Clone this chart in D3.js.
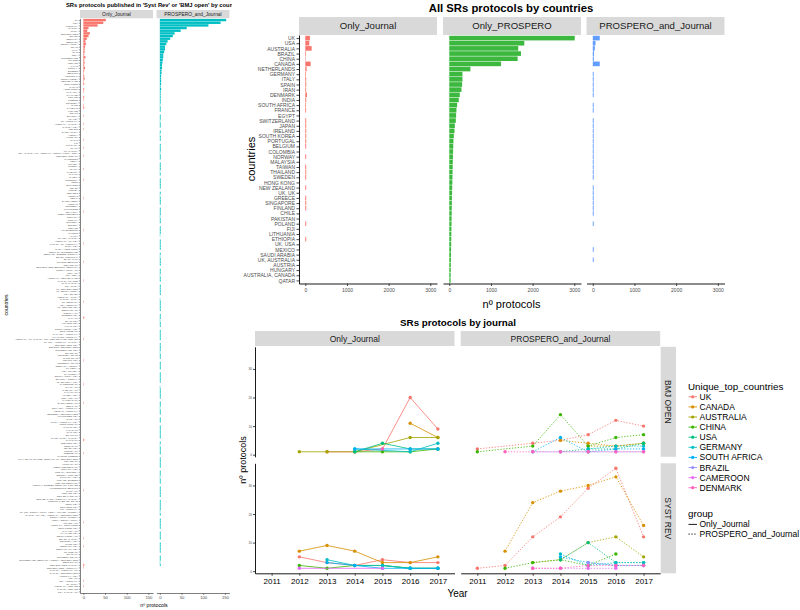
<!DOCTYPE html>
<html><head><meta charset="utf-8">
<script src="https://cdn.jsdelivr.net/npm/d3@7"></script>
<style>body{margin:0;background:#fff}svg{display:block;font-family:"Liberation Sans",Arial,Helvetica,sans-serif}</style>
</head><body><svg id="c" width="800" height="610"></svg>
<script>
// ---------------- DATA ----------------
// Left chart: SRs protocols published in 'Syst Rev' or 'BMJ open' by countries
const leftCountries = [
"UK","USA","AUSTRALIA","CANADA","CHINA","NETHERLANDS","BRAZIL","GERMANY","DENMARK","SOUTH AFRICA",
"SPAIN","ITALY","IRAN","INDIA","SWITZERLAND","FRANCE","IRELAND","JAPAN","NORWAY","SWEDEN",
"BELGIUM","PORTUGAL","SOUTH KOREA","NEW ZEALAND","SINGAPORE","TAIWAN","HONG KONG","MALAYSIA","THAILAND","FINLAND",
"GREECE","COLOMBIA","CHILE","PAKISTAN","POLAND","EGYPT","ETHIOPIA","UK, USA","UK, AUSTRALIA","AUSTRALIA, CANADA",
"CANADA, USA","MEXICO","SAUDI ARABIA","AUSTRIA","HUNGARY","QATAR","FIJI","LITHUANIA","UK, UK","UK, CANADA",
"USA, CANADA, UK, AUSTRALIA, SOUTH AFRICA, INDIA","NETHERLANDS, UK","CAMEROON","KENYA","UGANDA","NIGERIA","GHANA","TANZANIA","MALAWI","ZAMBIA",
"ARGENTINA","PERU","ECUADOR","ISRAEL","TURKEY","LEBANON","JORDAN","NEPAL","BANGLADESH","VIETNAM",
"INDONESIA","PHILIPPINES","SRI LANKA","CZECH REPUBLIC","ROMANIA","CROATIA","SLOVENIA","ESTONIA","ICELAND","LUXEMBOURG",
"CYPRUS","MALTA","UK, USA, CANADA","AUSTRALIA, UK, USA","CANADA, UK, AUSTRALIA","CHINA, USA","CHINA, HONG KONG","GERMANY, SWITZERLAND","DENMARK, SWEDEN, NORWAY","BRAZIL, PORTUGAL",
"SPAIN, ITALY","FRANCE, BELGIUM","IRELAND, UK","NETHERLANDS, BELGIUM, GERMANY","SOUTH AFRICA, UK","INDIA, UK","USA, INDIA","AUSTRALIA, NEW ZEALAND","CANADA, FRANCE","IRAN, CANADA",
"USA, CHINA","UK, NETHERLANDS","UK, SOUTH AFRICA","USA, BRAZIL","AUSTRALIA, CHINA","CANADA, CHINA","UK, GERMANY","USA, GERMANY","UK, IRELAND, USA","DENMARK, UK",
"NORWAY, UK","SWEDEN, USA","ITALY, UK","SPAIN, USA","FRANCE, USA","JAPAN, USA","SOUTH KOREA, USA","SINGAPORE, UK","MALAYSIA, AUSTRALIA","THAILAND, AUSTRALIA",
"AUSTRALIA, UK, CANADA, USA, NEW ZEALAND, IRELAND","UK, USA, AUSTRALIA, CANADA","NETHERLANDS, USA","BELGIUM, NETHERLANDS","SWITZERLAND, USA","BRAZIL, UK","COLOMBIA, SPAIN","CHILE, SPAIN","MEXICO, USA","ARGENTINA, SPAIN",
"GERMANY, AUSTRIA","UK, KENYA","USA, UGANDA","UK, NIGERIA","SOUTH AFRICA, USA","ETHIOPIA, NORWAY","UK, ETHIOPIA, USA","CAMEROON, UK","GHANA, UK","TANZANIA, UK",
"MALAWI, UK","ZAMBIA, USA","INDIA, USA, UK","PAKISTAN, UK","BANGLADESH, UK","NEPAL, UK","SRI LANKA, AUSTRALIA","VIETNAM, AUSTRALIA","INDONESIA, NETHERLANDS","PHILIPPINES, USA",
"CHINA, UK","CHINA, AUSTRALIA, USA","HONG KONG, UK","TAIWAN, USA","JAPAN, UK","IRAN, USA","EGYPT, UK","SAUDI ARABIA, CANADA","QATAR, UK","LEBANON, USA",
"JORDAN, UK","ISRAEL, USA","TURKEY, UK","GREECE, UK","CYPRUS, GREECE","ITALY, SPAIN, FRANCE, GERMANY, UK, NETHERLANDS","POLAND, UK","HUNGARY, UK","CZECH REPUBLIC, UK","ROMANIA, USA",
"CROATIA, SLOVENIA","ESTONIA, FINLAND","LITHUANIA, USA","FINLAND, SWEDEN","ICELAND, DENMARK","NORWAY, SWEDEN, DENMARK, FINLAND","LUXEMBOURG, BELGIUM","MALTA, UK","IRELAND, USA","NEW ZEALAND, UK",
"NEW ZEALAND, AUSTRALIA, CANADA","PORTUGAL, BRAZIL, SPAIN","PERU, USA","ECUADOR, USA","FIJI, AUSTRALIA","UK, USA, SOUTH AFRICA, KENYA, UGANDA, NIGERIA","CANADA, UK, USA, AUSTRALIA, NETHERLANDS","SOUTH AFRICA, NIGERIA","KENYA, SOUTH AFRICA","UGANDA, UK",
"AUSTRALIA, SINGAPORE","SINGAPORE, USA","MALAYSIA, UK","THAILAND, USA","SOUTH KOREA, UK","BRAZIL, CANADA","COLOMBIA, USA","CHILE, USA","DENMARK, USA","GERMANY, UK, USA",
"FRANCE, UK","SPAIN, UK","SWITZERLAND, UK","SWITZERLAND, GERMANY, AUSTRIA, NETHERLANDS","BELGIUM, UK","NETHERLANDS, CANADA","NETHERLANDS, AUSTRALIA","CANADA, AUSTRALIA, UK","CANADA, NETHERLANDS","AUSTRALIA, USA",
"USA, UK","USA, AUSTRALIA","UK, CHINA","AUSTRALIA, IRELAND","CANADA, IRELAND","USA, CANADA, UK"
];
const leftOnlyJournal = [
52,46,33,12,9,15,12,8,5,6, 4,3,3,2,5,2,3,2,4,2, 1,2,3,1,2,0,2,1,0,2, 1,0,1,2,0,0,1,0,0,1,
0,1,0,0,0,1,0,0,1,0, 0,1,0,0,0,0,1,0,0,0, 1,0,0,0,0,0,0,1,0,0, 0,0,1,0,0,0,0,0,0,1,
0,0,0,0,1,0,0,0,0,0, 0,1,0,0,0,0,0,0,1,0, 0,0,0,0,0,0,1,0,0,0, 0,0,2,0,0,0,0,0,0,0,
1,0,0,0,0,0,0,0,1,0, 0,0,0,0,0,0,0,1,0,0, 0,0,0,0,1,0,0,0,0,0, 0,0,0,0,0,0,0,0,2,0,
0,0,0,1,0,0,0,0,0,0, 0,0,0,0,0,0,0,1,0,0, 0,0,0,0,0,0,0,0,0,1, 0,0,0,0,0,1,0,0,1,0,
0,0,0,0,0,2,1,0,0,0, 0,1,0,1,0,0
];
const leftProsperoJournal = [
153,140,112,62,48,34,30,24,18,15, 12,12,10,8,8,7,6,5,5,4, 4,3,3,3,3,2,3,2,2,2,
2,2,1,2,2,0,2,2,1,2, 2,0,2,1,2,2,0,2,2,2, 1,2,2,0,2,2,2,1,2,0, 2,2,2,2,0,2,1,2,2,2,
0,2,2,2,1,2,2,0,2,2, 2,1,0,2,2,2,2,0,2,1, 2,2,2,0,2,2,1,2,2,0, 2,2,2,2,0,1,2,2,2,2,
0,2,2,1,2,2,0,2,2,2, 2,0,2,2,2,1,2,2,0,2, 2,2,0,2,2,2,2,0,1,2, 2,2,2,0,2,2,1,2,2,0,
2,2,0,2,2,2,2,2,0,2, 1,2,2,2,0,2,2,2,2,0, 2,2,1,2,2,0,2,2,2,2, 0,2,2,2,2,1,2,0,2,2,
2,2,0,2,2,2,0,2,2,2, 2,0,2,2,1,2
];
const leftGroups = ["Only_Journal","PROSPERO_and_Journal"];
const leftTicks = [0,50,100,150];

// Top-right chart: All SRs protocols by countries
const topCountries = ["UK","USA","AUSTRALIA","BRAZIL","CHINA","CANADA","NETHERLANDS","GERMANY","ITALY","SPAIN",
"IRAN","DENMARK","INDIA","SOUTH AFRICA","FRANCE","EGYPT","SWITZERLAND","JAPAN","IRELAND","SOUTH KOREA",
"PORTUGAL","BELGIUM","COLOMBIA","NORWAY","MALAYSIA","TAIWAN","THAILAND","SWEDEN","HONG KONG","NEW ZEALAND",
"UK, UK","GREECE","SINGAPORE","FINLAND","CHILE","PAKISTAN","POLAND","FIJI","LITHUANIA","ETHIOPIA",
"UK, USA","MEXICO","SAUDI ARABIA","UK, AUSTRALIA","AUSTRIA","HUNGARY","AUSTRALIA, CANADA","QATAR"];
const topOnlyJournal = [112,96,153,17,12,129,33,17,22,22, 20,41,22,17,20,0,22,22,22,22,
22,22,0,22,0,22,22,22,0,22, 0,22,22,22,0,0,22,0,0,22, 0,0,0,0,0,0,0,0];
const topOnlyProspero = [3010,1800,1655,1720,1640,1240,507,316,316,308, 292,252,228,188,172,164,157,133,125,109,
100,96,92,88,85,82,79,76,73,70, 67,64,62,60,58,56,54,52,50,48, 46,44,42,40,38,36,34,32];
const topProsperoJournal = [167,65,48,30,25,167,0,22,22,22, 22,22,0,22,22,0,22,22,22,22,
22,22,22,22,22,22,22,22,0,22, 22,22,22,22,22,0,22,0,0,0, 0,22,0,22,0,0,0,0];
const topGroups = ["Only_Journal","Only_PROSPERO","PROSPERO_and_Journal"];
const topTicks = [0,1000,2000,3000];

// Bottom-right chart: SRs protocols by journal
const years = ["2011","2012","2013","2014","2015","2016","2017"];
const lineCountries = ["UK","CANADA","AUSTRALIA","CHINA","USA","GERMANY","SOUTH AFRICA","BRAZIL","CAMEROON","DENMARK"];
const lineColors = ["#F8766D","#D89000","#A3A500","#39B600","#00BF7D","#00BFC4","#00B0F6","#9590FF","#E76BF3","#FF62BC"];
const journals = ["BMJ OPEN","SYST REV"];
const lineGroups = ["Only_Journal","PROSPERO_and_Journal"];
const yTicks = [0,10,20,30];
const _ = null;
const bmjOnlyJournal = [
[_,_,1,1,2,20,9],[_,_,_,_,_,11,6],[_,1,1,1,_,6,6],[_,_,_,1,1,1,2],[_,_,_,1,4,2,2],
[_,_,_,2,_,1,4],[_,_,_,2,_,2,2],[_,_,_,_,_,_,_],[_,_,_,_,_,_,_],[_,_,_,_,2,_,_]];
const bmjProsperoJournal = [
[2,_,4,5,7,12,10],[_,_,_,5,4,3,4],[_,_,_,_,3,3,4],[1,_,3,14,3,6,7],[_,_,_,1,2,2,4],
[_,_,_,_,2,3,3],[_,_,1,6,1,2,2],[_,_,1,1,1,1,1],[_,_,_,_,_,_,_],[_,1,1,1,1,1,1]];
const systOnlyJournal = [
[_,5,3,2,4,3,3],[_,7,9,7,3,3,5],[_,_,_,_,_,_,_],[_,2,1,2,2,1,1],[_,_,_,_,2,1,1],
[_,_,4,2,2,1,1],[_,_,3,2,1,1,1],[_,_,_,_,_,_,_],[_,1,_,_,1,_,_],[_,_,_,_,_,_,_]];
const systProsperoJournal = [
[1,2,12,19,29,36,12],[_,7,24,28,30,33,16],[_,_,3,4,10,12,5],[_,1,3,4,2,6,_],[_,_,_,4,10,3,3],
[_,_,_,6,2,3,3],[_,_,_,5,3,2,2],[_,_,_,_,3,2,2],[_,_,1,1,1,1,_],[_,_,1,1,2,2,2]];

// ---------------- DRAW ----------------
const svg = d3.select("#c");
const AX = "#4D4D4D", STRIP = "#D9D9D9", STXT = "#1A1A1A";
const fmt = d3.format("d");
function styleAxis(g, fs, lw){
  g.select(".domain").attr("stroke","#000").attr("stroke-width",lw);
  g.selectAll(".tick line").attr("stroke","#333").attr("stroke-width",lw);
  g.selectAll(".tick text").attr("fill",AX).attr("font-size",fs).attr("font-family",null);
}

// ===== LEFT CHART =====
svg.append("defs").append("clipPath").attr("id","clipL").append("rect").attr("x",0).attr("y",0).attr("width",232).attr("height",610);
const L = svg.append("g").attr("clip-path","url(#clipL)");
L.append("text").attr("x",66).attr("y",7.3).attr("font-size",5.8).attr("font-weight","bold").attr("fill","#000")
 .text("SRs protocols published in 'Syst Rev' or 'BMJ open' by countries");
const lMax = d3.max(leftOnlyJournal.concat(leftProsperoJournal));
const lW = 73;
const lx = d3.scaleLinear().domain([-0.05*lMax, 1.05*lMax]).range([0,lW]);
const ly = d3.scalePoint().domain(leftCountries).range([18.5,593]).padding(0.6);
const lStep = ly.step();
const lPanels = [{x0:80, vals:leftOnlyJournal, col:"#F8766D"},{x0:156.5, vals:leftProsperoJournal, col:"#00BFC4"}];
lPanels.forEach((p,i)=>{
  L.append("rect").attr("x",p.x0).attr("y",10).attr("width",lW).attr("height",8.3).attr("fill",STRIP);
  L.append("text").attr("x",p.x0+lW/2).attr("y",15.9).attr("text-anchor","middle").attr("font-size",4.9).attr("fill",STXT).text(leftGroups[i]);
  L.append("g").selectAll("rect").data(leftCountries.map((c,j)=>({c,v:p.vals[j]})).filter(d=>d.v>0)).join("rect")
   .attr("x",p.x0+lx(0)).attr("y",d=>ly(d.c)-0.45*lStep).attr("width",d=>lx(d.v)-lx(0)).attr("height",0.9*lStep).attr("fill",p.col);
  const ax = L.append("g").attr("transform",`translate(${p.x0},593)`).call(d3.axisBottom(lx).tickValues(leftTicks).tickFormat(fmt).tickSize(2).tickSizeOuter(0).tickPadding(1.5));
  styleAxis(ax,4.2,0.5);
});
const lay = L.append("g").attr("transform","translate(80,0)").call(d3.axisLeft(ly).tickSize(1.2).tickSizeOuter(0).tickPadding(1));
styleAxis(lay,2.3,0.5);
L.append("text").attr("x",154).attr("y",607).attr("text-anchor","middle").attr("font-size",5.2).attr("fill","#000").text("nº protocols");
L.append("text").attr("transform","translate(7.5,305) rotate(-90)").attr("text-anchor","middle").attr("font-size",5.2).attr("fill","#000").text("countries");

// ===== TOP-RIGHT CHART =====
const T = svg.append("g");
T.append("text").attr("x",511).attr("y",11.5).attr("text-anchor","middle").attr("font-size",11.3).attr("font-weight","bold").attr("fill","#000").text("All SRs protocols by countries");
const tMax = d3.max(topOnlyJournal.concat(topOnlyProspero, topProsperoJournal));
const tW = 138;
const tx = d3.scaleLinear().domain([-0.05*tMax, 1.05*tMax]).range([0,tW]);
const ty = d3.scalePoint().domain(topCountries).range([35,283.5]).padding(0.6);
const tStep = ty.step();
const tPanels = [{x0:299, vals:topOnlyJournal, col:"#F8766D"},{x0:443, vals:topOnlyProspero, col:"#3DB83F"},{x0:586.5, vals:topProsperoJournal, col:"#619CFF"}];
tPanels.forEach((p,i)=>{
  T.append("rect").attr("x",p.x0).attr("y",17).attr("width",tW).attr("height",18).attr("fill",STRIP);
  T.append("text").attr("x",p.x0+tW/2).attr("y",29.3).attr("text-anchor","middle").attr("font-size",9.6).attr("fill",STXT).text(topGroups[i]);
  T.append("g").selectAll("rect").data(topCountries.map((c,j)=>({c,v:p.vals[j]})).filter(d=>d.v>0)).join("rect")
   .attr("x",p.x0+tx(0)).attr("y",d=>ty(d.c)-0.45*tStep).attr("width",d=>tx(d.v)-tx(0)).attr("height",0.9*tStep).attr("fill",p.col);
  const ax = T.append("g").attr("transform",`translate(${p.x0},283.5)`).call(d3.axisBottom(tx).tickValues(topTicks).tickFormat(fmt).tickSize(2.5).tickSizeOuter(0).tickPadding(2.5));
  styleAxis(ax,5,0.9);
});
const tay = T.append("g").attr("transform","translate(299,0)").call(d3.axisLeft(ty).tickSize(2.5).tickSizeOuter(0).tickPadding(1.5));
styleAxis(tay,5,0.9);
T.append("text").attr("x",511.5).attr("y",308).attr("text-anchor","middle").attr("font-size",11).attr("fill","#000").text("nº protocols");
T.append("text").attr("transform","translate(255,159) rotate(-90)").attr("text-anchor","middle").attr("font-size",11).attr("fill","#000").text("countries");

// ===== BOTTOM-RIGHT CHART =====
const B = svg.append("g");
B.append("text").attr("x",458).attr("y",325.5).attr("text-anchor","middle").attr("font-size",9.8).attr("font-weight","bold").attr("fill","#000").text("SRs protocols by journal");
const panelData = [[bmjOnlyJournal,bmjProsperoJournal],[systOnlyJournal,systProsperoJournal]];
const allVals = panelData.flat(3).filter(v=>v!==null);
const vMin = d3.min(allVals), vMax = d3.max(allVals), vR = vMax - vMin;
const bW = 199.5, bH = 110;
const bx = d3.scalePoint().domain(years).range([0,bW]).padding(0.6);
const by = d3.scaleLinear().domain([vMin-0.05*vR, vMax+0.05*vR]).range([bH,0]);
const colX = [255, 460.7], rowY = [346.8, 463.3];
const dashes = [null, "1.3,1.6"];
lineGroups.forEach((g,ci)=>{
  B.append("rect").attr("x",colX[ci]).attr("y",331).attr("width",bW).attr("height",15).attr("fill",STRIP);
  B.append("text").attr("x",colX[ci]+bW/2).attr("y",341.5).attr("text-anchor","middle").attr("font-size",8.5).attr("fill",STXT).text(g);
});
journals.forEach((j,ri)=>{
  B.append("rect").attr("x",660.7).attr("y",rowY[ri]).attr("width",15.3).attr("height",bH).attr("fill",STRIP);
  B.append("text").attr("transform",`translate(665.3,${rowY[ri]+bH/2}) rotate(90)`).attr("text-anchor","middle").attr("font-size",8.5).attr("fill",STXT).text(j);
});
const line = d3.line().x(d=>bx(d.y)).y(d=>by(d.v));
panelData.forEach((row,ri)=>{
  row.forEach((mat,ci)=>{
    const g = B.append("g").attr("transform",`translate(${colX[ci]},${rowY[ri]})`);
    mat.forEach((vals,k)=>{
      const pts = years.map((y,i)=>({y,v:vals[i]})).filter(d=>d.v!==null);
      if(pts.length>1) g.append("path").attr("d",line(pts)).attr("fill","none").attr("stroke",lineColors[k])
        .attr("stroke-width",0.9).attr("stroke-dasharray",dashes[ci]).attr("opacity",0.9);
      g.selectAll(null).data(pts).join("circle").attr("cx",d=>bx(d.y)).attr("cy",d=>by(d.v)).attr("r",1.7).attr("fill",lineColors[k]);
    });
    if(ci===0){
      const ay = g.append("g").call(d3.axisLeft(by).tickValues(yTicks).tickSize(2).tickSizeOuter(0).tickPadding(1));
      styleAxis(ay,3.2,0.9);
    }
    if(ri===1){
      const ax = g.append("g").attr("transform",`translate(0,${bH})`).call(d3.axisBottom(bx).tickSize(2.5).tickSizeOuter(0).tickPadding(2.5));
      styleAxis(ax,8,0.9);
      ax.selectAll(".tick text").attr("fill","#000");
    }
  });
});
B.append("text").attr("x",457.5).attr("y",597).attr("text-anchor","middle").attr("font-size",10).attr("fill","#000").text("Year");
B.append("text").attr("transform","translate(246,460) rotate(-90)").attr("text-anchor","middle").attr("font-size",9).attr("fill","#000").text("nº protocols");

// Legend
const LG = svg.append("g");
LG.append("text").attr("x",688).attr("y",389.5).attr("font-size",9.8).attr("fill","#000").text("Unique_top_countries");
lineCountries.forEach((c,i)=>{
  const cy = 396.8 + i*10.1;
  LG.append("line").attr("x1",688.5).attr("x2",697).attr("y1",cy).attr("y2",cy).attr("stroke",lineColors[i]).attr("stroke-width",0.9);
  LG.append("circle").attr("cx",692.7).attr("cy",cy).attr("r",1.6).attr("fill",lineColors[i]);
  LG.append("text").attr("x",699.5).attr("y",cy+3).attr("font-size",8.5).attr("fill","#000").text(c);
});
LG.append("text").attr("x",688).attr("y",517).attr("font-size",9.8).attr("fill","#000").text("group");
lineGroups.forEach((g,i)=>{
  const cy = 524.4 + i*9.7;
  LG.append("line").attr("x1",688.5).attr("x2",697).attr("y1",cy).attr("y2",cy).attr("stroke","#000").attr("stroke-width",0.9).attr("stroke-dasharray",dashes[i]);
  LG.append("text").attr("x",699.5).attr("y",cy+3).attr("font-size",8.5).attr("fill","#000").text(g);
});
</script></body></html>
